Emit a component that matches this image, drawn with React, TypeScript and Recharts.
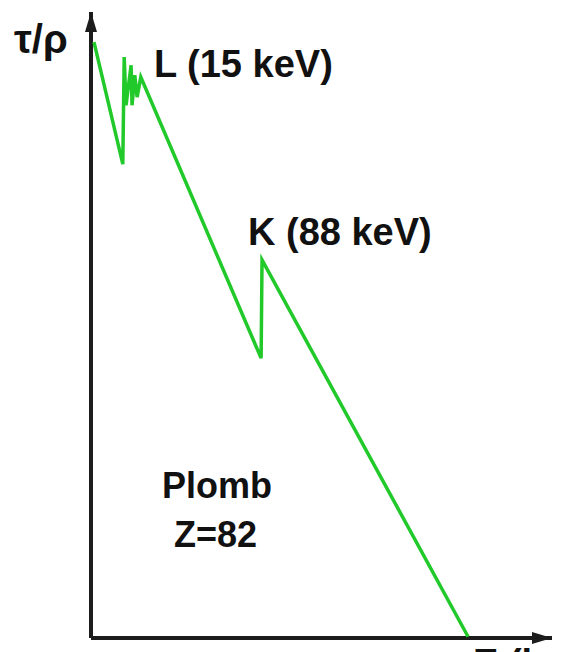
import { LineChart, Line, XAxis, YAxis, ReferenceDot, ReferenceLine } from "recharts";

// schematic photo-absorption curve for lead, abstract units (0..100 on both axes)
const energy = [0.65, 6.9, 7.2, 7.6, 8.7, 8.9, 9.5, 10.0, 10.8, 36.9, 37.1, 81.8];
const tauRho = [95.2, 75.7, 92.8, 85.1, 91.5, 85.1, 89.9, 86.4, 89.6, 44.7, 60.4, 0.2];

const labels = {
  yTitle: "τ/ρ",
  xTitle: "E (keV)",
  edgeL: "L (15 keV)",
  edgeK: "K (88 keV)",
  element: "Plomb",
  z: "Z=82",
};

const data = energy.map((e, i) => ({ e, v: tauRho[i] }));

const AXIS = "#1c1c1c";
const GREEN = "#22c92a";
const FONT = "'Liberation Sans', Arial, sans-serif";

const ArrowRight = (p: any) => (
  <polygon
    points={`${p.cx},${p.cy} ${p.cx - 20},${p.cy - 6} ${p.cx - 20},${p.cy + 6}`}
    fill={AXIS}
  />
);

const ArrowUp = (p: any) => (
  <polygon
    points={`${p.cx},${p.cy} ${p.cx - 6},${p.cy + 20} ${p.cx + 6},${p.cy + 20}`}
    fill={AXIS}
  />
);

export default function App() {
  return (
    <div style={{ position: "absolute", left: 0, top: 0, background: "#fff" }}>
      <LineChart
        width={563}
        height={652}
        data={data}
        margin={{ top: 12, right: 11, bottom: 14, left: 91 }}
        style={{ overflow: "hidden" }}
      >
        <XAxis type="number" dataKey="e" domain={[0, 100]} hide />
        <YAxis type="number" domain={[0, 100]} hide />
        <ReferenceLine y={0} stroke={AXIS} strokeWidth={4} ifOverflow="visible" />
        <ReferenceLine x={0} stroke={AXIS} strokeWidth={4} ifOverflow="visible" />
        <Line
          type="linear"
          dataKey="v"
          stroke={GREEN}
          strokeWidth={3.5}
          dot={false}
          activeDot={false}
          isAnimationActive={false}
        />
        <ReferenceDot x={100} y={0} r={0} ifOverflow="visible" shape={ArrowRight} />
        <ReferenceDot x={0} y={100} r={0} ifOverflow="visible" shape={ArrowUp} />
        <text x={14} y={53} fontFamily={FONT} fontWeight="bold" fontSize={40} fill="#111">
          {labels.yTitle}
        </text>
        <text x={154} y={77} fontFamily={FONT} fontWeight="bold" fontSize={38} fill="#111">
          {labels.edgeL}
        </text>
        <text x={248} y={245} fontFamily={FONT} fontWeight="bold" fontSize={38} fill="#111">
          {labels.edgeK}
        </text>
        <text x={162} y={498} fontFamily={FONT} fontWeight="bold" fontSize={36} fill="#111">
          {labels.element}
        </text>
        <text x={174} y={547} fontFamily={FONT} fontWeight="bold" fontSize={36} fill="#111">
          {labels.z}
        </text>
        <text x={473} y={676} fontFamily={FONT} fontWeight="bold" fontSize={38} fill="#111">
          {labels.xTitle}
        </text>
      </LineChart>
    </div>
  );
}
